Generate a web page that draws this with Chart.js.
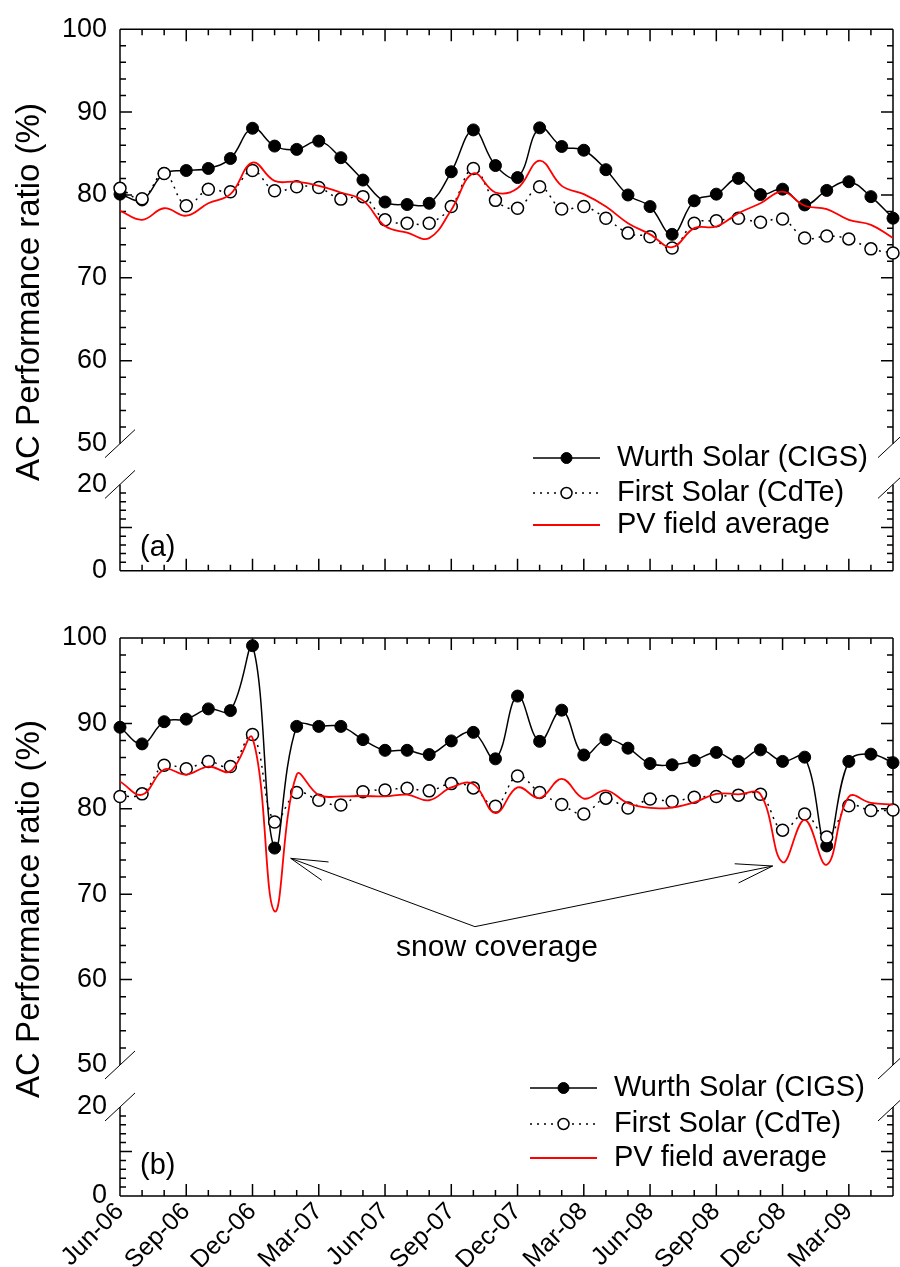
<!DOCTYPE html>
<html>
<head>
<meta charset="utf-8">
<title>AC performance ratio</title>
<script src="https://cdn.jsdelivr.net/npm/chart.js@4.4.1/dist/chart.umd.min.js"></script>
<style>
  html, body { margin: 0; padding: 0; background: #fff; }
  #wrap { position: relative; width: 900px; height: 1267px; }
  canvas { position: absolute; left: 0; }
  #chartA { top: 0; }
  #chartB { top: 600px; }
</style>
</head>
<body>
<div id="wrap">
  <canvas id="chartA" width="900" height="600"></canvas>
  <canvas id="chartB" width="900" height="667"></canvas>
</div>
<script>
const months = [
  "Jun-06", "Jul-06", "Aug-06", "Sep-06", "Oct-06", "Nov-06", "Dec-06",
  "Jan-07", "Feb-07", "Mar-07", "Apr-07", "May-07", "Jun-07", "Jul-07", "Aug-07", "Sep-07", "Oct-07", "Nov-07", "Dec-07",
  "Jan-08", "Feb-08", "Mar-08", "Apr-08", "May-08", "Jun-08", "Jul-08", "Aug-08", "Sep-08", "Oct-08", "Nov-08", "Dec-08",
  "Jan-09", "Feb-09", "Mar-09", "Apr-09", "May-09",
];

const seriesNames = ["Wurth Solar (CIGS)", "First Solar (CdTe)", "PV field average"];

// panel (a)
const wurthA = [80.1, 79.4, 82.6, 82.95, 83.2, 84.4, 88.05, 85.9, 85.5, 86.5, 84.5, 81.8,
  79.15, 78.85, 79.0, 82.8, 87.85, 83.55, 82.1, 88.1, 85.85, 85.4, 83.05, 80.0,
  78.6, 75.25, 79.3, 80.1, 82.0, 80.05, 80.7, 78.8, 80.55, 81.6, 79.8, 77.2];
const firstA = [80.8, 79.55, 82.6, 78.7, 80.7, 80.4, 82.95, 80.5, 81.0, 80.9, 79.5, 79.8,
  77.0, 76.6, 76.6, 78.6, 83.2, 79.35, 78.4, 81.0, 78.3, 78.6, 77.2, 75.4,
  74.95, 73.6, 76.6, 76.9, 77.2, 76.7, 77.1, 74.8, 75.05, 74.7, 73.5, 73.0];
const fieldA = [78.1, 77.0, 78.4, 77.5, 79.0, 80.1, 83.9, 81.7, 81.6, 81.1, 80.3, 79.35,
  76.25, 75.45, 74.8, 78.2, 82.6, 80.3, 80.8, 84.15, 81.1, 80.1, 78.6, 76.6,
  75.25, 73.7, 76.0, 76.2, 77.8, 79.0, 80.4, 78.7, 78.3, 77.0, 76.4, 74.8];

// panel (b)
const wurthB = [89.55, 87.6, 90.2, 90.5, 91.7, 91.5, 99.1, 75.4, 89.65, 89.65, 89.65, 88.1,
  86.85, 86.85, 86.35, 87.95, 88.95, 85.85, 93.2, 87.9, 91.55, 86.3, 88.1, 87.1,
  85.3, 85.15, 85.65, 86.6, 85.55, 86.9, 85.55, 86.05, 75.65, 85.55, 86.4, 85.4];
const firstB = [81.45, 81.75, 85.1, 84.7, 85.55, 84.95, 88.7, 78.45, 81.9, 81.0, 80.45, 82.0,
  82.2, 82.4, 82.1, 82.95, 82.45, 80.3, 83.85, 81.9, 80.5, 79.4, 81.25, 80.1,
  81.15, 80.85, 81.35, 81.45, 81.6, 81.7, 77.5, 79.4, 76.7, 80.35, 79.8, 79.85];
const fieldB = [83.2, 81.65, 84.6, 84.0, 84.95, 84.4, 88.3, 68.0, 84.0, 81.6, 81.45, 81.5,
  81.45, 81.65, 81.0, 82.5, 82.9, 79.5, 82.5, 81.25, 83.5, 81.2, 82.15, 80.65,
  80.1, 80.15, 80.75, 81.75, 81.7, 81.7, 73.75, 78.7, 73.45, 81.4, 80.7, 80.5];

const FONT = '"Liberation Sans", Arial, Helvetica, sans-serif';
const yTitle = "AC Performance ratio (%)";

function yAxis(min, max, weight, stackWeight, show) {
  return {
    type: "linear",
    position: "left",
    stack: "panel",
    weight,
    stackWeight,
    min,
    max,
    display: show !== null,
    grid: { display: false, drawTicks: false },
    border: { display: false },
    ticks: {
      display: !!show,
      stepSize: 10,
      padding: 13,
      color: "#000",
      font: { family: FONT, size: 27 },
    },
    afterFit(scale) {
      scale.width = 120;
    },
  };
}

function arrow(ctx, x0, y0, x1, y1) {
  const a = Math.atan2(y0 - y1, x0 - x1);
  ctx.beginPath();
  ctx.moveTo(x0, y0);
  ctx.lineTo(x1, y1);
  ctx.moveTo(x1 + 38 * Math.cos(a + 0.26), y1 + 38 * Math.sin(a + 0.26));
  ctx.lineTo(x1, y1);
  ctx.lineTo(x1 + 38 * Math.cos(a - 0.26), y1 + 38 * Math.sin(a - 0.26));
  ctx.stroke();
}

function panelPlugin(cfg) {
  return {
    id: "panel",
    beforeDatasetsDraw(chart) {
      const { ctx, chartArea } = chart;
      const { left, right } = chartArea;
      const xs = chart.scales.x;
      const up = chart.scales.y;
      const lo = chart.scales.ylow;
      const top = up.getPixelForValue(100);
      const b1 = up.getPixelForValue(50);
      const b2 = lo.getPixelForValue(20);
      const bot = lo.getPixelForValue(0);

      ctx.save();
      ctx.strokeStyle = "#000";
      ctx.lineWidth = 1.5;
      ctx.beginPath();
      for (const px of [left, right]) {
        ctx.moveTo(px, top);
        ctx.lineTo(px, b1);
        ctx.moveTo(px, b2);
        ctx.lineTo(px, bot);
      }
      ctx.moveTo(left, top);
      ctx.lineTo(right, top);
      ctx.moveTo(left, bot);
      ctx.lineTo(right, bot);

      const yTick = (scale, v) => {
        const py = scale.getPixelForValue(v);
        const len = v % 10 === 0 ? 12 : 6;
        ctx.moveTo(left, py);
        ctx.lineTo(left + len, py);
        ctx.moveTo(right, py);
        ctx.lineTo(right - len, py);
      };
      for (let v = 52; v < 100; v += 2) yTick(up, v);
      for (let v = 2; v < 20; v += 2) yTick(lo, v);

      for (let i = 1; i < months.length - 1; i++) {
        const px = xs.getPixelForValue(i);
        const len = i % 3 === 0 ? 12 : 6;
        ctx.moveTo(px, bot);
        ctx.lineTo(px, bot - len);
        ctx.moveTo(px, top);
        ctx.lineTo(px, top + len);
      }
      ctx.stroke();

      // axis breaks
      ctx.lineWidth = 1;
      ctx.beginPath();
      for (const px of [left, right]) {
        for (const py of [b1, b2]) {
          ctx.moveTo(px - 15, py + 14);
          ctx.lineTo(px + 15, py - 14);
        }
      }
      ctx.stroke();
      ctx.restore();
    },
    afterDraw(chart) {
      const { ctx } = chart;
      const xs = chart.scales.x;
      const up = chart.scales.y;
      const lo = chart.scales.ylow;
      const top = up.getPixelForValue(100);
      const bot = lo.getPixelForValue(0);

      ctx.save();
      ctx.fillStyle = "#000";

      // y title across the broken axis
      ctx.save();
      ctx.translate(30, (top + bot) / 2 - 8);
      ctx.rotate(-Math.PI / 2);
      ctx.font = `33px ${FONT}`;
      ctx.textAlign = "center";
      ctx.textBaseline = "middle";
      ctx.fillText(yTitle, 0, 0);
      ctx.restore();

      // panel tag
      ctx.font = `29px ${FONT}`;
      ctx.textAlign = "left";
      ctx.textBaseline = "middle";
      ctx.fillText(cfg.tag, 140, cfg.tagY);

      // legend
      chart.data.datasets.forEach((ds, k) => {
        const y = cfg.legendRows[k];
        const x0 = cfg.legendX;
        ctx.strokeStyle = ds.borderColor;
        ctx.lineWidth = ds.borderWidth;
        ctx.setLineDash(ds.borderDash || []);
        ctx.beginPath();
        ctx.moveTo(x0, y);
        ctx.lineTo(x0 + 67, y);
        ctx.stroke();
        ctx.setLineDash([]);
        if (ds.pointRadius > 0) {
          ctx.beginPath();
          ctx.arc(x0 + 33.5, y, 5.5, 0, Math.PI * 2);
          ctx.fillStyle = ds.pointBackgroundColor;
          ctx.fill();
          ctx.lineWidth = ds.pointBorderWidth;
          ctx.strokeStyle = ds.pointBorderColor;
          ctx.stroke();
        }
        ctx.fillStyle = "#000";
        ctx.font = `29px ${FONT}`;
        ctx.fillText(ds.label, x0 + 84, y);
      });

      // snow annotation
      if (cfg.note) {
        const n = cfg.note;
        const tx = xs.getPixelForValue(n.tail[0]);
        const ty = up.getPixelForValue(n.tail[1]);
        ctx.strokeStyle = "#000";
        ctx.lineWidth = 1;
        for (const tip of n.tips) {
          arrow(ctx, tx, ty, xs.getPixelForValue(tip[0]), up.getPixelForValue(tip[1]));
        }
        ctx.font = `30px ${FONT}`;
        ctx.textAlign = "center";
        ctx.fillText(n.text, xs.getPixelForValue(n.at[0]), up.getPixelForValue(n.at[1]));
      }
      ctx.restore();
    },
  };
}

function makePanel(id, wurth, first, field, cfg) {
  const ctx = document.getElementById(id).getContext("2d");
  return new Chart(ctx, {
    type: "line",
    data: {
      labels: months,
      datasets: [
        {
          label: seriesNames[0],
          data: wurth,
          yAxisID: "y",
          borderColor: "#000",
          borderWidth: 1.5,
          pointRadius: 6,
          pointBackgroundColor: "#000",
          pointBorderColor: "#000",
          pointBorderWidth: 1,
          tension: 0.4,
          order: 2,
        },
        {
          label: seriesNames[1],
          data: first,
          yAxisID: "y",
          borderColor: "#000",
          borderWidth: 1.5,
          borderDash: [2, 5],
          pointRadius: 6,
          pointBackgroundColor: "#fff",
          pointBorderColor: "#000",
          pointBorderWidth: 1.5,
          tension: 0.4,
          order: 1,
        },
        {
          label: seriesNames[2],
          data: field,
          yAxisID: "y",
          borderColor: "#ff0000",
          borderWidth: 1.8,
          pointRadius: 0,
          tension: 0.4,
          order: 0,
        },
      ],
    },
    options: {
      responsive: false,
      animation: false,
      layout: { autoPadding: false, padding: { top: cfg.padTop, right: 7, left: 0, bottom: 0 } },
      plugins: { legend: { display: false }, tooltip: { enabled: false } },
      scales: {
        x: {
          type: "category",
          offset: false,
          grid: { display: false, drawTicks: false },
          border: { display: false },
          ticks: {
            display: cfg.xLabels,
            autoSkip: false,
            minRotation: 45,
            maxRotation: 45,
            padding: 1,
            color: "#000",
            font: { family: FONT, size: 25 },
            callback: (v, i) => (i % 3 === 0 ? months[i] : ""),
          },
          afterFit(scale) {
            scale.height = cfg.xHeight;
            scale.paddingLeft = 0;
            scale.paddingRight = 0;
          },
        },
        y: yAxis(50, 100, 3, 427, true),
        gap: yAxis(0, 1, 2, 42, null),
        ylow: yAxis(0, 20, 1, 89, true),
      },
    },
    plugins: [panelPlugin(cfg)],
  });
}

makePanel("chartA", wurthA, firstA, fieldA, {
  padTop: 18,
  xLabels: false,
  xHeight: 24,
  tag: "(a)",
  tagY: 548,
  legendX: 533,
  legendRows: [458, 493, 525],
});

makePanel("chartB", wurthB, firstB, fieldB, {
  padTop: 38,
  xLabels: true,
  xHeight: 71,
  tag: "(b)",
  tagY: 566,
  legendX: 530,
  legendRows: [488, 524, 558],
  note: {
    text: "snow coverage",
    at: [17.07, 63.7],
    tail: [16.07, 66.2],
    tips: [[7.73, 74.2], [29.55, 73.3]],
  },
});
</script>
</body>
</html>
